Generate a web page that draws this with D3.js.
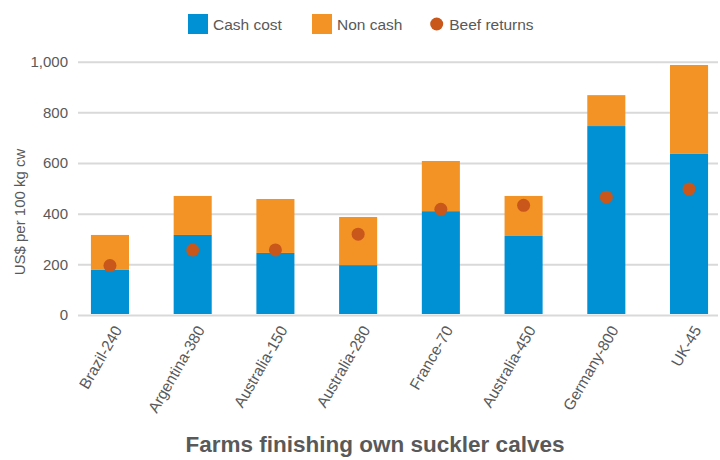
<!DOCTYPE html>
<html><head><meta charset="utf-8">
<script src="https://cdn.jsdelivr.net/npm/d3@7"></script>
<style>body{margin:0;background:#fff;font-family:"Liberation Sans",Arial,sans-serif;}</style>
</head><body><svg id="c" width="720" height="460"></svg>
<script>
const categories = ["Brazil-240","Argentina-380","Australia-150","Australia-280","France-70","Australia-450","Germany-800","UK-45"];
const cashCost = [178, 316, 245, 197, 410, 312, 746, 636];
const nonCash = [138, 154, 213, 190, 198, 158, 122, 351];
const beefReturns = [195, 257, 257, 319, 417, 433, 465, 497];
const yTicks = [0, 200, 400, 600, 800, 1000];
const seriesNames = ["Cash cost", "Non cash", "Beef returns"];

const colors = {cash:"#0091d5", non:"#f39325", beef:"#c9561a", text:"#595959", grid:"#d9d9d9"};
const svg = d3.select("#c");
const y = d3.scaleLinear().domain([0,1000]).range([315,61.7]);
const x = d3.scaleBand().domain(categories).range([68.6,730.4]).paddingInner(0.54).paddingOuter(0.27);
const gridX0 = 78, gridX1 = 718;

// grid
const yAxis = d3.axisLeft(y).tickValues(yTicks).tickFormat(d3.format(",")).tickSize(-(gridX1-gridX0)).tickPadding(10);
const gy = svg.append("g").attr("transform",`translate(${gridX0},0)`).call(yAxis);
gy.select(".domain").remove();
gy.selectAll(".tick line").attr("stroke",colors.grid).attr("stroke-width",2);
gy.selectAll(".tick text").attr("fill",colors.text).style("font-size","15px").style("font-family","Liberation Sans, Arial, sans-serif");

const data = categories.map((c,i)=>({c, cash:cashCost[i], non:nonCash[i], beef:beefReturns[i]}));
const bars = svg.append("g");
bars.selectAll("rect.cash").data(data).join("rect").attr("class","cash")
  .attr("x",d=>x(d.c)).attr("width",x.bandwidth())
  .attr("y",d=>y(d.cash)).attr("height",d=>y(0)-y(d.cash)-1).attr("fill",colors.cash);
bars.selectAll("rect.non").data(data).join("rect").attr("class","non")
  .attr("x",d=>x(d.c)).attr("width",x.bandwidth())
  .attr("y",d=>y(d.cash+d.non)).attr("height",d=>y(d.cash)-y(d.cash+d.non)).attr("fill",colors.non);
bars.selectAll("circle").data(data).join("circle")
  .attr("cx",d=>x(d.c)+x.bandwidth()/2).attr("cy",d=>y(d.beef)).attr("r",6.5).attr("fill",colors.beef);

// x axis labels
const xAxis = d3.axisBottom(x).tickSize(0).tickPadding(0);
const gx = svg.append("g").attr("transform","translate(0,316)").call(xAxis);
gx.select(".domain").remove();
gx.selectAll(".tick text").attr("fill",colors.text).style("font-size","15.5px")
  .style("font-family","Liberation Sans, Arial, sans-serif")
  .attr("text-anchor","end").attr("dy","0.35em").attr("y",0)
  .attr("transform","translate(8,11) rotate(-60)");

// y title
svg.append("text").attr("transform","translate(25,212) rotate(-90)").attr("text-anchor","middle")
  .attr("fill",colors.text).style("font-size","15px").text("US$ per 100 kg cw");

// x title
svg.append("text").attr("x",375).attr("y",452).attr("text-anchor","middle").attr("fill",colors.text)
  .style("font-size","22.5px").style("font-weight","bold").text("Farms finishing own suckler calves");

// legend
const lg = svg.append("g").style("font-size","15.5px");
const lx = [188, 312, 436.7];
lg.append("rect").attr("x",lx[0]).attr("y",14).attr("width",20).attr("height",20).attr("fill",colors.cash);
lg.append("text").attr("x",lx[0]+25).attr("y",29.5).attr("fill",colors.text).text(seriesNames[0]);
lg.append("rect").attr("x",lx[1]).attr("y",14).attr("width",20).attr("height",20).attr("fill",colors.non);
lg.append("text").attr("x",lx[1]+25).attr("y",29.5).attr("fill",colors.text).text(seriesNames[1]);
lg.append("circle").attr("cx",lx[2]).attr("cy",24).attr("r",6.5).attr("fill",colors.beef);
lg.append("text").attr("x",lx[2]+12.5).attr("y",29.5).attr("fill",colors.text).text(seriesNames[2]);
</script></body></html>
